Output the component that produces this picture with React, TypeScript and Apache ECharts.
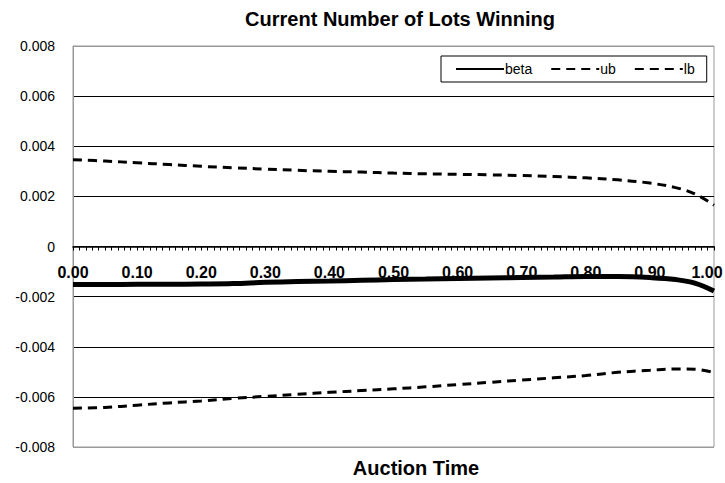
import React, { useEffect, useRef } from "react";
import * as echarts from "echarts";

const times = [0, 0.05, 0.1, 0.15, 0.2, 0.25, 0.3, 0.35, 0.4, 0.45, 0.5, 0.55, 0.6, 0.65, 0.7, 0.75, 0.8, 0.85, 0.9, 0.94, 0.97, 1.0];
const beta = [-0.00152, -0.00152, -0.00151, -0.00151, -0.0015, -0.00148, -0.00143, -0.0014, -0.00138, -0.00135, -0.00132, -0.0013, -0.00128, -0.00126, -0.00124, -0.00122, -0.0012, -0.0012, -0.00124, -0.00132, -0.00146, -0.00178];
const ub = [0.00346, 0.00341, 0.00334, 0.00327, 0.0032, 0.00314, 0.00309, 0.00304, 0.003, 0.00297, 0.00293, 0.0029, 0.00288, 0.00286, 0.00283, 0.00279, 0.00274, 0.00266, 0.00253, 0.00235, 0.0021, 0.00165];
const lb = [-0.00645, -0.00642, -0.00633, -0.00624, -0.00616, -0.00606, -0.00598, -0.0059, -0.00582, -0.00575, -0.00568, -0.0056, -0.00551, -0.00542, -0.00533, -0.00524, -0.00515, -0.00502, -0.00494, -0.00489, -0.0049, -0.00503];

const seriesNames = ["beta", "ub", "lb"];
const title = "Current Number of Lots Winning";
const xTitle = "Auction Time";

const pair = (ys: number[]) => times.map((t, i) => [t, ys[i]]);

export default function App() {
  const ref = useRef<HTMLDivElement>(null);
  useEffect(() => {
    if (!ref.current) return;
    const chart = echarts.init(ref.current, undefined, { renderer: "svg" });
    const font = "'Liberation Sans', Arial, sans-serif";
    const dashed = { color: "#000", width: 3, type: [9, 6] as any };
    const xLabelStyle = { fontFamily: font, fontSize: 16, fontWeight: "bold" as const, color: "#000" };
    chart.setOption({
      animation: false,
      backgroundColor: "#fff",
      textStyle: { fontFamily: font },
      title: {
        text: title,
        left: 395,
        textAlign: "center",
        top: 4,
        textStyle: { fontFamily: font, fontSize: 20, fontWeight: "bold", color: "#000" },
      },
      graphic: [
        {
          type: "text",
          x: 416,
          y: 468,
          style: {
            text: xTitle,
            fontFamily: font,
            fontSize: 20,
            fontWeight: "bold",
            fill: "#000",
            align: "center",
            verticalAlign: "middle",
          },
        },
      ],
      legend: {
        data: seriesNames,
        left: 441,
        top: 56,
        orient: "horizontal",
        itemWidth: 48,
        itemHeight: 14,
        itemGap: 18,
        padding: [6, 12, 6, 14],
        borderColor: "#000",
        borderWidth: 1,
        itemStyle: { opacity: 0 },
        textStyle: { fontFamily: font, fontSize: 14, color: "#000", padding: [0, 0, 0, -4] },
      },
      grid: {
        left: 73,
        right: 11,
        top: 46,
        bottom: 36,
        show: true,
        borderColor: "#999",
        borderWidth: 1,
        outerBoundsMode: "none",
      },
      xAxis: {
        type: "value",
        position: "bottom",
        offset: -200.5,
        min: 0,
        max: 1,
        interval: 0.1,
        axisLine: { onZero: false, lineStyle: { color: "#000", width: 1.5 } },
        axisTick: { show: true, length: 4, lineStyle: { color: "#000" } },
        minorTick: { show: true, splitNumber: 10, length: 4, lineStyle: { color: "#000" } },
        splitLine: { show: false },
        axisLabel: {
          margin: 18,
          ...xLabelStyle,
          formatter: (v: number) => (v >= 0.999 ? "{last|" + v.toFixed(2) + "}" : v.toFixed(2)),
          rich: {
            last: { ...xLabelStyle, padding: [0, 14, 0, 0] },
          },
        },
      },
      yAxis: {
        type: "value",
        min: -0.008,
        max: 0.008,
        interval: 0.002,
        axisLine: { show: true, lineStyle: { color: "#999" } },
        axisTick: { show: false },
        splitLine: {
          show: true,
          lineStyle: { color: ["#999", "#000", "#000", "#000", "#000", "#000", "#000", "#000", "#999"], width: 1 },
        },
        axisLabel: {
          margin: 18,
          fontFamily: font,
          fontSize: 14,
          color: "#000",
          formatter: (v: number) => (Math.abs(v) < 1e-12 ? "0" : v.toFixed(3)),
        },
      },
      series: [
        {
          name: seriesNames[0],
          type: "line",
          data: pair(beta),
          smooth: 0.4,
          symbol: "none",
          lineStyle: { color: "#000", width: 5 },
          itemStyle: { color: "#000" },
          z: 5,
        },
        {
          name: seriesNames[1],
          type: "line",
          data: pair(ub),
          smooth: 0.4,
          symbol: "none",
          lineStyle: dashed,
          itemStyle: { color: "#000" },
        },
        {
          name: seriesNames[2],
          type: "line",
          data: pair(lb),
          smooth: 0.4,
          symbol: "none",
          lineStyle: dashed,
          itemStyle: { color: "#000" },
        },
      ],
    });
    return () => chart.dispose();
  }, []);
  return (
    <div
      ref={ref}
      style={{ position: "fixed", left: 0, top: 0, width: 725, height: 483, background: "#fff" }}
    />
  );
}
